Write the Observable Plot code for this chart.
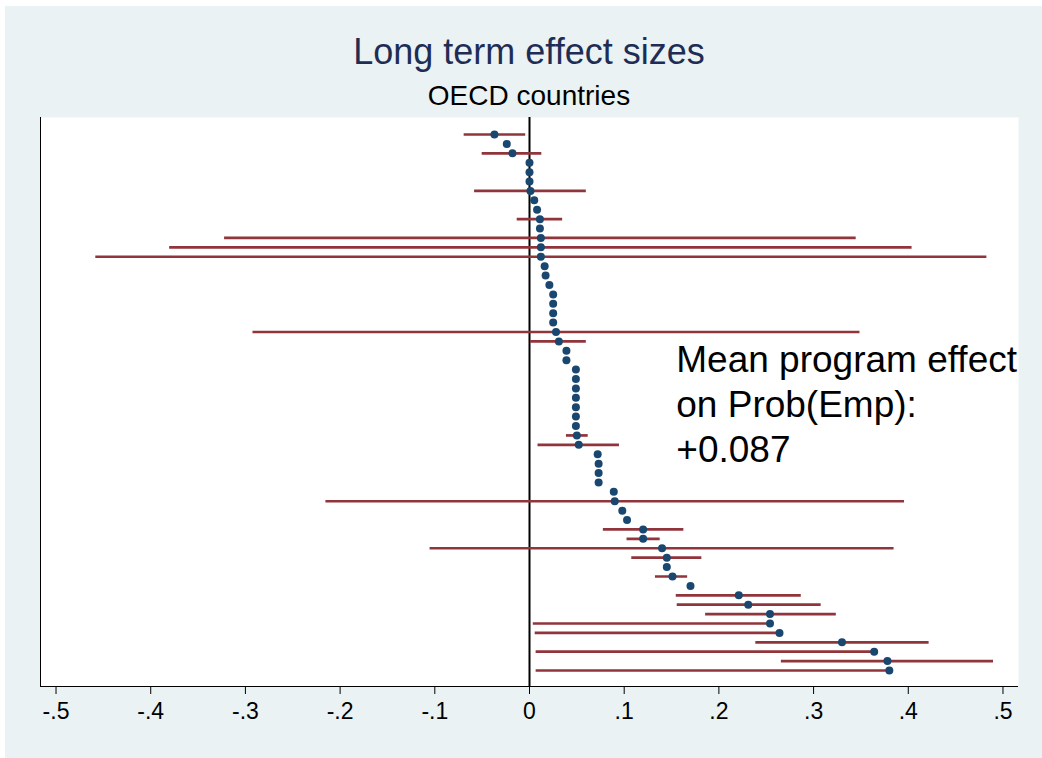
<!DOCTYPE html>
<html>
<head>
<meta charset="utf-8">
<script src="https://cdn.jsdelivr.net/npm/d3@7"></script>
<script src="https://cdn.jsdelivr.net/npm/@observablehq/plot@0.6"></script>
<style>
  html, body { margin: 0; padding: 0; background: #ffffff; }
  #wrap { position: absolute; left: 5px; top: 6px; width: 1037px; height: 752px; background: #EAF2F3;
          font-family: Arial, "Liberation Sans", sans-serif; }
  #title { position: absolute; left: 35px; width: 978px; top: 28px; text-align: center;
           font-size: 36px; line-height: 36px; color: #1F2D55; }
  #subtitle { position: absolute; left: 35px; width: 978px; top: 76px; text-align: center;
              font-size: 28px; line-height: 27px; color: #000000; }
  #chart { position: absolute; left: 0; top: 104px; }
</style>
</head>
<body>
<div id="wrap">
  <div id="title">Long term effect sizes</div>
  <div id="subtitle">OECD countries</div>
  <div id="chart"></div>
</div>
<script>
// Point estimates (sorted), one per study row, top to bottom
const estimates = [
  -0.037, -0.024, -0.018, 0.000, 0.000, 0.000, 0.001, 0.005, 0.008, 0.011,
  0.011, 0.012, 0.012, 0.012, 0.016, 0.017, 0.021, 0.025, 0.025, 0.025,
  0.025, 0.028, 0.031, 0.039, 0.039, 0.049, 0.049, 0.049, 0.049, 0.049,
  0.049, 0.049, 0.050, 0.052, 0.072, 0.073, 0.073, 0.073, 0.089, 0.090,
  0.098, 0.103, 0.120, 0.120, 0.140, 0.145, 0.145, 0.151, 0.170, 0.221,
  0.231, 0.254, 0.254, 0.264, 0.330, 0.364, 0.378, 0.380
];
// Lower / upper confidence bounds (null = no interval shown)
const lower = [
  -0.069, null, -0.050, null, null, null, -0.058, null, null, -0.013,
  null, -0.322, -0.380, -0.458, null, null, null, null, null, null,
  null, -0.292, 0.001, null, null, null, null, null, null, null,
  null, null, 0.039, 0.009, null, null, null, null, null, -0.215,
  null, null, 0.078, 0.103, -0.105, 0.108, null, 0.133, null, 0.155,
  0.156, 0.186, 0.004, 0.006, 0.239, 0.007, 0.266, 0.007
];
const upper = [
  -0.004, null, 0.013, null, null, null, 0.060, null, null, 0.035,
  null, 0.345, 0.404, 0.483, null, null, null, null, null, null,
  null, 0.349, 0.060, null, null, null, null, null, null, null,
  null, null, 0.062, 0.095, null, null, null, null, null, 0.396,
  null, null, 0.163, 0.138, 0.385, 0.182, null, 0.167, null, 0.287,
  0.308, 0.324, 0.254, 0.264, 0.422, 0.364, 0.490, 0.380
];
const xTicks = [-0.5, -0.4, -0.3, -0.2, -0.1, 0, 0.1, 0.2, 0.3, 0.4, 0.5];
const annotationLines = ["Mean program effect", "on Prob(Emp):", "+0.087"];
const annotationPos = { x: 0.155, row: 29.5 };

const xDomain = [-0.5164, 0.5164];
const yDomain = [59.7, -0.81];

const rows = estimates.map((e, i) => ({ row: i + 1, est: e, lo: lower[i], hi: upper[i] }));
const bars = rows.filter(d => d.lo != null && d.hi != null);

const fmt = d => d === 0 ? "0" : (d < 0 ? "-" : "") + d3.format(".1f")(Math.abs(d)).replace(/^0\./, ".");

const chart = Plot.plot({
  width: 1037,
  height: 626,
  marginLeft: 35,
  marginRight: 24,
  marginTop: 7,
  marginBottom: 50,
  style: { background: "transparent", fontFamily: "Arial, 'Liberation Sans', sans-serif", fontSize: "23px", color: "#000" },
  x: { domain: xDomain, axis: null },
  y: { domain: yDomain, axis: null },
  marks: [
    Plot.frame({ fill: "white", stroke: null }),
    Plot.ruleX([xDomain[0]], { stroke: "black", strokeWidth: 1 }),
    Plot.ruleY([yDomain[0]], { stroke: "black", strokeWidth: 1 }),
    Plot.ruleX([0], { stroke: "black", strokeWidth: 2 }),
    Plot.ruleY(bars, { y: "row", x1: "lo", x2: "hi", stroke: "#90353B", strokeWidth: 2.7 }),
    Plot.dot(rows, { x: "est", y: "row", r: 4, fill: "#1A476F", stroke: null }),
    Plot.axisX({ ticks: xTicks, tickFormat: fmt, tickSize: 8, tickPadding: 8, fontSize: 23, stroke: "black", fill: "black" }),
    Plot.text([annotationLines.join("\n")], {
      x: () => annotationPos.x, y: () => annotationPos.row,
      text: d => d, textAnchor: "start", lineAnchor: "middle", lineHeight: 1.22,
      fontSize: 37, fill: "black"
    })
  ]
});
document.getElementById("chart").appendChild(chart);
</script>
</body>
</html>
